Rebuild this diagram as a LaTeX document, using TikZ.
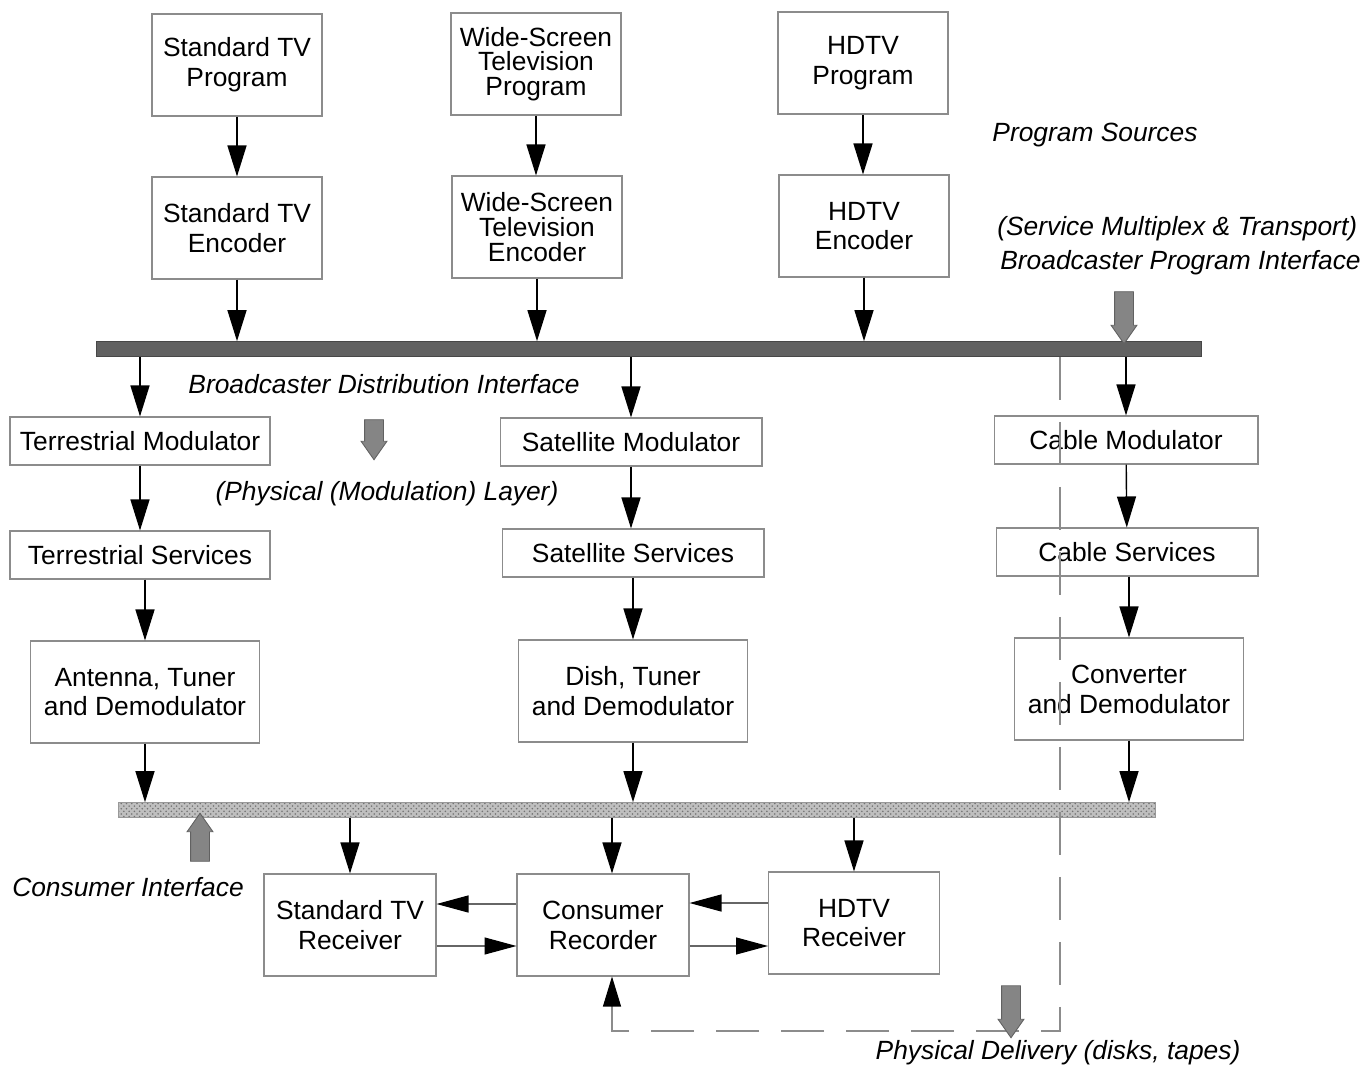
\documentclass[tikz,border=0pt]{standalone}
\usepackage{fontspec}
\setmainfont{Liberation Sans}
\usetikzlibrary{shapes}
\usetikzlibrary{shapes.arrows}
\usetikzlibrary{arrows.meta}
\usetikzlibrary{patterns}
\tikzset{
    tvbox/.style = {rectangle, draw=black!45, line width=0.6pt, align=center, minimum width=3.4cm, minimum height=2.04cm, inner sep=0pt, font=\fontsize{15}{17}\selectfont},
    tvboxt/.style = {tvbox, font=\fontsize{15}{14}\selectfont},
    tvboxw/.style = {tvbox, minimum width=5.24cm, minimum height=0.96cm},
    tvboxd/.style = {tvbox, minimum width=4.58cm},
    edgen/.style = {-{Triangle[length=0.62cm,width=0.38cm]}, line width=0.8pt, black},
    edgeh/.style = {-{Triangle[length=0.64cm,width=0.34cm,color=black]}, line width=0.7pt, draw=black!60},
    busd/.style = {rectangle, fill=black!62, draw=black!72, inner sep=0pt, minimum width=22.1cm, minimum height=0.3cm},
    busc/.style = {rectangle, draw=black!40, preaction={fill=black!25}, pattern=crosshatch dots, pattern color=black!55, inner sep=0pt, minimum width=20.74cm, minimum height=0.3cm},
    grayarr/.style = {single arrow, fill=black!48, draw=black!62, line width=0.5pt, inner sep=0.18cm, single arrow head extend=0.07cm, single arrow tip angle=70, minimum height=1.04cm, rotate=-90},
    lbl/.style = {inner sep=0pt, font=\fontsize{15}{17}\selectfont\itshape},
    delivery/.style = {draw=black!45, line width=0.6pt, dash pattern=on 0.86cm off 0.44cm},
}

\begin{document}
\begin{tikzpicture}[x=0.02cm, y=-0.02cm]
% sources and encoders
\node[tvbox] at (237, 65) (sp) {Standard TV\\Program};
\node[tvboxt] at (536, 64) (wp) {Wide-Screen\\Television\\Program};
\node[tvbox] at (863, 63) (hp) {HDTV\\Program};
\node[tvbox] at (237, 228) (se) {Standard TV\\Encoder};
\node[tvboxt] at (537, 227) (we) {Wide-Screen\\Television\\Encoder};
\node[tvbox] at (864, 226) (he) {HDTV\\Encoder};
%
\node[busd] at (649, 349) (dist) {};
%
\node[tvboxw, minimum width=5.2cm] at (140, 441) (tm) {Terrestrial Modulator};
\node[tvboxw] at (631, 442) (sm) {Satellite Modulator};
\node[tvboxw, minimum width=5.28cm] at (1126, 440) (cm) {Cable Modulator};
\node[tvboxw, minimum width=5.2cm] at (140, 555) (ts) {Terrestrial Services};
\node[tvboxw] at (633, 553) (ss) {Satellite Services};
\node[tvboxw] at (1127, 552) (cs) {Cable Services};
\node[tvboxd] at (145, 692) (ad) {Antenna, Tuner\\and Demodulator};
\node[tvboxd] at (633, 691) (dd) {Dish, Tuner\\and Demodulator};
\node[tvboxd] at (1129, 689) (cd) {Converter\\and Demodulator};
%
\node[busc] at (637, 810) (cons) {};
%
\node[tvbox, minimum width=3.44cm] at (350, 925) (sr) {Standard TV\\Receiver};
\node[tvbox, minimum width=3.44cm] at (603, 925) (rec) {Consumer\\Recorder};
\node[tvbox, minimum width=3.42cm] at (854, 923) (hr) {HDTV\\Receiver};

% down the chains
\draw[edgen] (sp.south) -- (sp.south |- se.north);
\draw[edgen] (wp.south) -- (wp.south |- we.north);
\draw[edgen] (hp.south) -- (hp.south |- he.north);
\draw[edgen] (se.south) -- (se.south |- dist.north);
\draw[edgen] (we.south) -- (we.south |- dist.north);
\draw[edgen] (he.south) -- (he.south |- dist.north);
\draw[edgen] (dist.south -| tm.north) -- (tm.north);
\draw[edgen] (dist.south -| sm.north) -- (sm.north);
\draw[edgen] (dist.south -| cm.north) -- (cm.north);
\draw[edgen] (tm) -- (ts);
\draw[edgen] (sm.south) -- (sm.south |- ss.north);
\draw[edgen] (cm) -- (cs);
\draw[edgen] (ts.south -| ad.north) -- (ad.north);
\draw[edgen] (ss) -- (dd);
\draw[edgen] (cs.south -| cd.north) -- (cd.north);
\draw[edgen] (ad.south) -- (ad.south |- cons.north);
\draw[edgen] (dd.south) -- (dd.south |- cons.north);
\draw[edgen] (cd.south) -- (cd.south |- cons.north);
\draw[edgen] (cons.south -| sr.north) -- (sr.north);
\draw[edgen] ([xshift=0.18cm]rec.north |- cons.south) -- ([xshift=0.18cm]rec.north);
\draw[edgen] (cons.south -| hr.north) -- (hr.north);

% between the consumer boxes
\draw[edgeh] ([yshift=0.42cm]rec.west) -- ([yshift=0.42cm]rec.west -| sr.east);
\draw[edgeh] ([yshift=-0.42cm]sr.east) -- ([yshift=-0.42cm]sr.east -| rec.west);
\draw[edgeh] ([yshift=0.4cm]hr.west) -- ([yshift=0.4cm]hr.west -| rec.east);
\draw[edgeh] ([yshift=-0.42cm]rec.east) -- ([yshift=-0.42cm]rec.east -| hr.west);

% physical delivery loop
\coordinate (tap) at (1060, 357);
\coordinate (pd) at (1060, 1031);
\draw[delivery, -{Triangle[length=0.6cm,width=0.36cm,color=black]}] (tap) -- (pd) -| ([xshift=0.18cm]rec.south);

% interface markers
\node[grayarr] at (1124, 311) (bpi) {};
\node[grayarr, minimum height=0.8cm] at (374, 433) (pml) {};
\node[grayarr, minimum height=0.96cm, rotate=180] at (200, 844) (ci) {};
\node[grayarr] at (1011, 1005) (pdl) {};

\node[lbl] at (1095, 135) (ps) {Program Sources};
\node[lbl, anchor=west] at (997, 229) (smt) {(Service Multiplex \& Transport)};
\node[lbl, anchor=west] at (1000, 263) (bpil) {Broadcaster Program Interface};
\node[lbl] at (384, 384) (bdi) {Broadcaster Distribution Interface};
\node[lbl] at (387, 494) (pmll) {(Physical (Modulation) Layer)};
\node[lbl] at (128, 887) (cil) {Consumer Interface};
\node[lbl] at (1058, 1053) (pdll) {Physical Delivery (disks, tapes)};

\path[use as bounding box] (0, 0) rectangle (1366, 1067);
\end{tikzpicture}
\end{document}
